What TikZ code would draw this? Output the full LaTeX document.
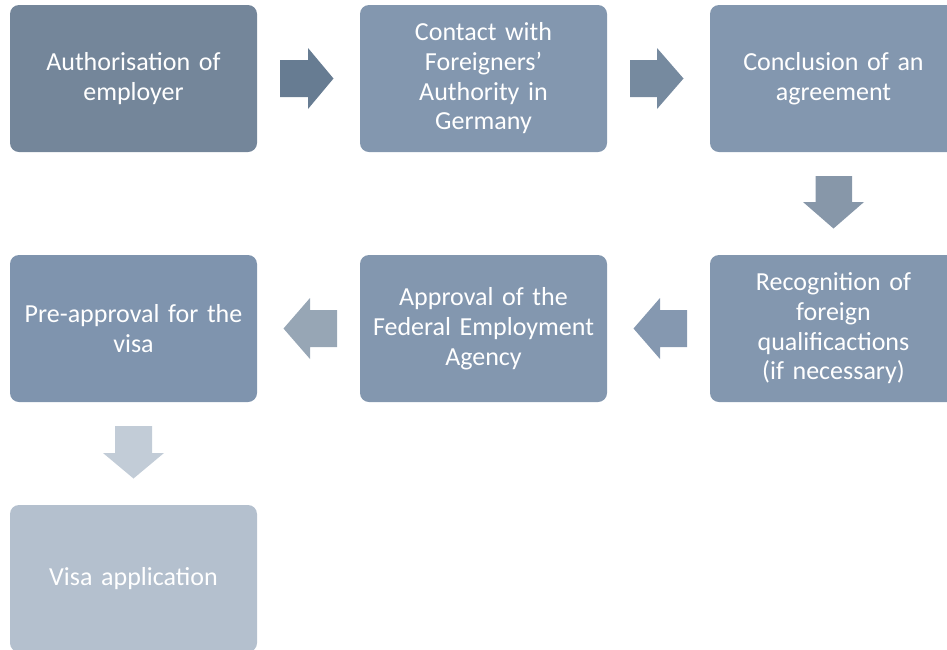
\documentclass[tikz,border=0pt]{standalone}
\usepackage{fontspec}
\setmainfont{Carlito}
\definecolor{cA}{HTML}{74869A}
\definecolor{cB}{HTML}{8397AF}
\definecolor{cPre}{HTML}{7F94AE}
\definecolor{cVisa}{HTML}{B4C0CE}
\definecolor{aOne}{HTML}{677C92}
\definecolor{aTwo}{HTML}{768A9F}
\definecolor{aThree}{HTML}{8797A9}
\definecolor{aFour}{HTML}{8598B0}
\definecolor{aFive}{HTML}{97A6B5}
\definecolor{aSix}{HTML}{C2CCD7}
\tikzset{
  stepbox/.style={rounded corners=9pt, minimum width=247pt, minimum height=147pt,
    inner sep=0pt, text=white, align=center, text width=240pt,
    font=\fontsize{26}{29.7}\selectfont},
  blockarrow/.style={draw=none}
}
\begin{document}
\begin{tikzpicture}[x=1pt,y=-1pt]
\useasboundingbox (0,0) rectangle (947,649);
\clip (0,0) rectangle (947,649);
\node[stepbox, fill=cA] (b1) at (133.5,78.5) {Authorisation of\\employer};
\node[stepbox, fill=cB] (b2) at (483.5,78.5) {Contact with\\Foreigners’\\Authority in\\Germany};
\node[stepbox, fill=cB] (b3) at (833.5,78.5) {Conclusion of an\\agreement};
\node[stepbox, fill=cB] (b4) at (833.5,328.5) {Recognition of\\foreign\\qualificactions\\(if necessary)};
\node[stepbox, fill=cB] (b5) at (483.5,328.5) {Approval of the\\Federal Employment\\Agency};
\node[stepbox, fill=cPre] (b6) at (133.5,328.5) {Pre-approval for the\\visa};
\node[stepbox, fill=cVisa] (b7) at (133.5,578.5) {Visa application};
% block arrows
\fill[aOne] (280,60) -- (308,60) -- (308,48) -- (333.5,78.5) -- (308,109) -- (308,97) -- (280,97) -- cycle;
\fill[aTwo] (630,60) -- (657,60) -- (657,48) -- (683.5,78.5) -- (657,109) -- (657,97) -- (630,97) -- cycle;
\fill[aThree] (815.5,176) -- (852,176) -- (852,202) -- (864,202) -- (833.5,228.5) -- (803,202) -- (815.5,202) -- cycle;
\fill[aFour] (687,310) -- (660,310) -- (660,298) -- (633.5,328.5) -- (660,359) -- (660,347) -- (687,347) -- cycle;
\fill[aFive] (337,310) -- (310,310) -- (310,298) -- (283.5,328.5) -- (310,359) -- (310,347) -- (337,347) -- cycle;
\fill[aSix] (115,426) -- (152,426) -- (152,453) -- (164,453) -- (133.5,478.5) -- (103,453) -- (115,453) -- cycle;
\end{tikzpicture}
\end{document}
